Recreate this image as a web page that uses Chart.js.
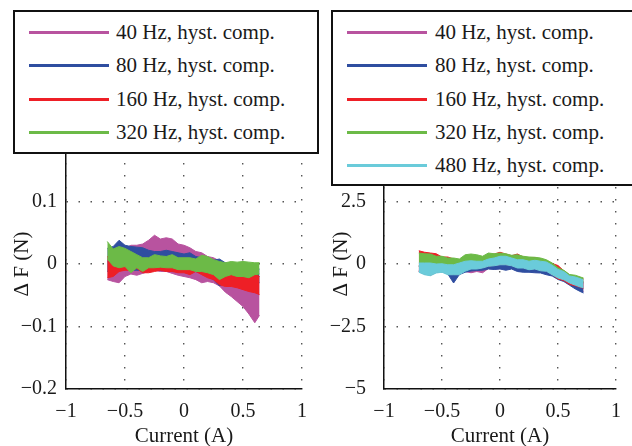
<!DOCTYPE html>
<html>
<head>
<meta charset="utf-8">
<script src="https://cdn.jsdelivr.net/npm/chart.js@4.4.0/dist/chart.umd.min.js"></script>
<style>
  body { margin: 0; width: 632px; height: 446px; background: #fff; overflow: hidden; position: relative; }
  .panel { position: absolute; top: 0; }
  .legend { position: absolute; background: #fff; border: 2px solid #111; box-sizing: border-box; }
  .swatch { position: absolute; height: 3px; width: 80px; }
  .label { position: absolute; font-family: 'Liberation Serif', 'Times New Roman', serif; font-size: 21px; line-height: 21px; color: #1a1a1a; white-space: nowrap; }
</style>
</head>
<body>
<div class="panel" style="left:0"><canvas id="leftChart" width="318" height="446"></canvas></div>
<div class="panel" style="left:316px"><canvas id="rightChart" width="316" height="446"></canvas></div>

<script>
// series names and colours (40, 80, 160, 320, 480 Hz)
const seriesNames = ['40 Hz, hyst. comp.', '80 Hz, hyst. comp.', '160 Hz, hyst. comp.', '320 Hz, hyst. comp.', '480 Hz, hyst. comp.'];
const seriesColors = ['#b8539f', '#2f4ea0', '#ee1f26', '#6cba47', '#6acbda'];

// ---- left panel: each run is a noisy band, kept as upper / lower envelope ----
const leftX = [-0.65, -0.60, -0.55, -0.50, -0.45, -0.40, -0.35, -0.30, -0.25, -0.20, -0.15, -0.10, -0.05, 0, 0.05, 0.10, 0.15, 0.20, 0.25, 0.30, 0.35, 0.40, 0.45, 0.50, 0.55, 0.60, 0.64];

const left40Hi = [0.005, 0.000, 0.008, 0.025, 0.030, 0.030, 0.032, 0.038, 0.046, 0.040, 0.042, 0.040, 0.032, 0.030, 0.026, 0.020, 0.018, 0.012, 0.010, 0.005, 0.000, -0.005, -0.010, -0.015, -0.020, -0.025, -0.020];
const left40Lo = [-0.025, -0.028, -0.030, -0.020, -0.016, -0.018, -0.015, -0.012, -0.010, -0.012, -0.012, -0.015, -0.018, -0.020, -0.022, -0.025, -0.030, -0.028, -0.030, -0.035, -0.045, -0.052, -0.060, -0.068, -0.080, -0.094, -0.082];

const left80Hi = [0.025, 0.028, 0.038, 0.030, 0.028, 0.027, 0.026, 0.022, 0.020, 0.020, 0.022, 0.020, 0.018, 0.016, 0.018, 0.012, 0.010, 0.008, 0.006, 0.008, 0.002, 0.000, 0.000, -0.002, -0.004, -0.006, -0.008];
const left80Lo = [-0.012, -0.008, -0.008, -0.008, -0.010, -0.010, -0.010, -0.010, -0.010, -0.010, -0.010, -0.012, -0.012, -0.012, -0.012, -0.012, -0.015, -0.020, -0.025, -0.035, -0.030, -0.030, -0.030, -0.032, -0.030, -0.030, -0.030];

const left160Hi = [0.012, 0.008, 0.006, 0.006, 0.012, 0.004, 0.002, 0.002, 0.004, 0.004, 0.003, 0.004, 0.002, 0.001, 0.000, 0.000, 0.000, -0.002, -0.006, -0.010, -0.010, -0.010, -0.012, -0.014, -0.016, -0.016, -0.020];
const left160Lo = [-0.022, -0.020, -0.012, -0.010, -0.010, -0.007, -0.014, -0.014, -0.012, -0.010, -0.012, -0.012, -0.014, -0.014, -0.017, -0.012, -0.017, -0.022, -0.025, -0.033, -0.036, -0.036, -0.038, -0.041, -0.044, -0.046, -0.049];

const left320Hi = [0.036, 0.024, 0.028, 0.025, 0.020, 0.015, 0.010, 0.010, 0.015, 0.013, 0.012, 0.015, 0.010, 0.010, 0.010, 0.008, 0.014, 0.012, 0.007, 0.004, 0.002, 0.004, 0.003, 0.004, 0.003, 0.002, 0.002];
const left320Lo = [0.008, -0.003, -0.006, -0.004, -0.014, -0.006, -0.012, -0.006, -0.006, -0.005, -0.006, -0.006, -0.009, -0.009, -0.009, -0.012, -0.012, -0.014, -0.017, -0.025, -0.020, -0.017, -0.020, -0.020, -0.022, -0.017, -0.016];

// ---- right panel ----
const rightX = [-0.70, -0.65, -0.60, -0.55, -0.50, -0.45, -0.40, -0.35, -0.30, -0.25, -0.20, -0.15, -0.10, -0.05, 0, 0.05, 0.10, 0.15, 0.20, 0.25, 0.30, 0.35, 0.40, 0.45, 0.50, 0.55, 0.60, 0.65, 0.70, 0.72];

const right40Hi = [-0.10, -0.10, -0.10, -0.15, -0.12, -0.15, -0.15, -0.10, -0.05, 0.00, -0.02, -0.02, 0.05, 0.10, 0.15, 0.15, 0.10, 0.03, 0.03, -0.03, 0.00, -0.03, -0.06, -0.17, -0.33, -0.42, -0.58, -0.64, -0.72, -0.76];
const right40Lo = [-0.28, -0.38, -0.42, -0.32, -0.28, -0.38, -0.50, -0.43, -0.30, -0.35, -0.30, -0.35, -0.18, -0.20, -0.18, -0.22, -0.18, -0.27, -0.30, -0.30, -0.32, -0.33, -0.40, -0.45, -0.58, -0.66, -0.80, -0.95, -1.05, -1.10];

const right80Hi = [-0.06, -0.06, -0.06, -0.10, -0.09, -0.13, -0.13, -0.06, 0.01, 0.03, 0.01, 0.01, 0.10, 0.14, 0.20, 0.20, 0.14, 0.07, 0.07, 0.01, 0.05, 0.01, -0.02, -0.13, -0.30, -0.38, -0.55, -0.60, -0.68, -0.72];
const right80Lo = [-0.30, -0.40, -0.44, -0.33, -0.30, -0.40, -0.76, -0.42, -0.33, -0.28, -0.26, -0.25, -0.20, -0.22, -0.20, -0.25, -0.20, -0.30, -0.33, -0.33, -0.35, -0.36, -0.43, -0.48, -0.62, -0.70, -0.85, -1.00, -1.12, -1.16];

const right160Hi = [0.53, 0.47, 0.44, 0.41, 0.28, 0.28, 0.20, 0.15, 0.30, 0.33, 0.33, 0.26, 0.38, 0.40, 0.47, 0.40, 0.33, 0.40, 0.28, 0.25, 0.26, 0.20, 0.13, 0.02, -0.06, -0.27, -0.45, -0.50, -0.56, -0.60];
const right160Lo = [-0.30, -0.40, -0.45, -0.33, -0.30, -0.40, -0.40, -0.40, -0.25, -0.18, -0.18, -0.14, -0.08, -0.05, -0.02, -0.02, -0.05, -0.14, -0.14, -0.20, -0.18, -0.25, -0.27, -0.42, -0.60, -0.66, -0.82, -0.87, -0.94, -0.97];

const right320Hi = [0.44, 0.41, 0.40, 0.31, 0.31, 0.24, 0.24, 0.20, 0.37, 0.40, 0.37, 0.31, 0.44, 0.41, 0.44, 0.41, 0.35, 0.37, 0.31, 0.28, 0.27, 0.24, 0.17, 0.04, -0.15, -0.25, -0.42, -0.45, -0.53, -0.56];
const right320Lo = [-0.10, -0.10, -0.10, -0.12, -0.10, -0.15, -0.15, -0.10, -0.05, 0.00, 0.00, 0.00, 0.05, 0.10, 0.15, 0.15, 0.10, 0.02, 0.02, -0.02, 0.00, -0.05, -0.08, -0.20, -0.30, -0.40, -0.55, -0.60, -0.70, -0.72];

const right480Hi = [0.04, 0.04, 0.04, 0.00, 0.01, -0.03, -0.03, 0.04, 0.11, 0.13, 0.11, 0.11, 0.20, 0.24, 0.31, 0.31, 0.24, 0.17, 0.17, 0.11, 0.15, 0.11, 0.08, -0.05, -0.22, -0.30, -0.48, -0.52, -0.60, -0.64];
const right480Lo = [-0.33, -0.43, -0.47, -0.36, -0.33, -0.43, -0.43, -0.43, -0.29, -0.20, -0.20, -0.16, -0.09, -0.07, -0.03, -0.03, -0.07, -0.16, -0.16, -0.23, -0.20, -0.27, -0.29, -0.43, -0.56, -0.63, -0.76, -0.85, -0.93, -0.95];

const serif = "'Liberation Serif', 'Times New Roman', serif";
const textColor = '#1a1a1a';

// upper line fills down to the lower line that follows it
function band(idx, xs, hi, lo) {
    const common = { borderColor: seriesColors[idx], borderWidth: 1, pointRadius: 0, tension: 0 };
    return [
        { ...common, label: seriesNames[idx], data: xs.map((x, i) => ({ x, y: hi[i] })), fill: '+1', backgroundColor: seriesColors[idx] },
        { ...common, label: seriesNames[idx] + ' (low)', data: xs.map((x, i) => ({ x, y: lo[i] })), fill: false }
    ];
}

const fmt = v => String(+Number(v).toFixed(2)).replace('-', '\u2212');

function makeOptions(yMin, yMax, yStep, yWidth, yPad, titlePad, padRight) {
    const grid = { color: '#555', lineWidth: 1.4, drawTicks: false };
    const border = { display: true, color: '#111', width: 1.5, dash: [1.5, 10.5] };
    return {
        responsive: false,
        animation: false,
        layout: { padding: { top: 139, right: padRight, left: 0, bottom: 0 } },
        plugins: { legend: { display: false }, tooltip: { enabled: false } },
        scales: {
            x: {
                type: 'linear', min: -1, max: 1,
                ticks: { stepSize: 0.5, padding: 11, color: textColor, font: { family: serif, size: 20 }, callback: fmt },
                grid, border,
                title: { display: true, text: 'Current (A)', color: textColor, font: { family: serif, size: 21 }, padding: { top: 0, bottom: -3 } },
                afterFit: s => { s.height = 57; }
            },
            y: {
                min: yMin, max: yMax,
                ticks: { stepSize: yStep, padding: yPad, color: textColor, font: { family: serif, size: 20 }, callback: fmt },
                grid, border,
                title: { display: true, text: '\u0394 F (N)', color: textColor, font: { family: serif, size: 21 }, padding: { top: titlePad, bottom: 0 } },
                afterFit: s => { s.width = yWidth; }
            }
        }
    };
}

new Chart(document.getElementById('leftChart'), {
    type: 'line',
    data: {
        datasets: [
            ...band(3, leftX, left320Hi, left320Lo),
            ...band(2, leftX, left160Hi, left160Lo),
            ...band(1, leftX, left80Hi, left80Lo),
            ...band(0, leftX, left40Hi, left40Lo)
        ]
    },
    options: makeOptions(-0.2, 0.2, 0.1, 66, 9, 10, 10)
});

new Chart(document.getElementById('rightChart'), {
    type: 'line',
    data: {
        datasets: [
            ...band(4, rightX, right480Hi, right480Lo),
            ...band(3, rightX, right320Hi, right320Lo),
            ...band(2, rightX, right160Hi, right160Lo),
            ...band(1, rightX, right80Hi, right80Lo),
            ...band(0, rightX, right40Hi, right40Lo)
        ]
    },
    options: makeOptions(-5, 5, 2.5, 68, 18, 13, 8)
});

// legends as boxed overlays, as in the figure
function legend(box, count, lineX, textX) {
    const el = document.createElement('div');
    el.className = 'legend';
    Object.assign(el.style, { left: box[0] + 'px', top: box[1] + 'px', width: box[2] + 'px', height: box[3] + 'px' });
    document.body.appendChild(el);
    for (let i = 0; i < count; i++) {
        const y = 32.5 + i * 33.3;
        const sw = document.createElement('div');
        sw.className = 'swatch';
        Object.assign(sw.style, { left: lineX + 'px', top: (y - 1.5) + 'px', background: seriesColors[i] });
        document.body.appendChild(sw);
        const tx = document.createElement('div');
        tx.className = 'label';
        tx.textContent = seriesNames[i];
        Object.assign(tx.style, { left: textX + 'px', top: (y - 10.5) + 'px' });
        document.body.appendChild(tx);
    }
}
legend([13, 10, 306, 144], 4, 29, 116);
legend([331, 10, 310, 176], 5, 347, 435);
</script>
</body>
</html>
